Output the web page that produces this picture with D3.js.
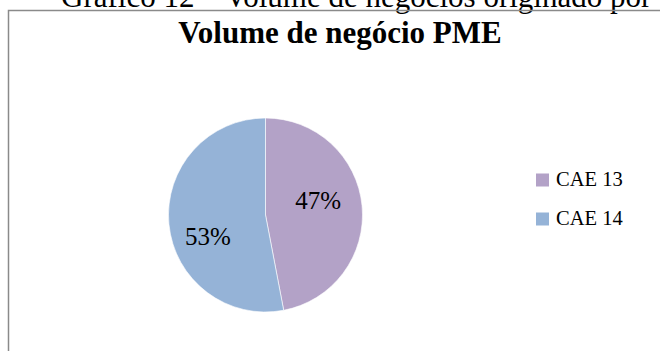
<!DOCTYPE html>
<html>
<head>
<meta charset="utf-8">
<script src="https://cdn.jsdelivr.net/npm/d3@7"></script>
<style>
  html, body { margin: 0; padding: 0; background: #fff; }
  svg { display: block; }
</style>
</head>
<body>
<script>
const captionText = "Gráfico 12 – Volume de negócios originado por";
const chartTitle = "Volume de negócio PME";
const categories = ["CAE 13", "CAE 14"];
const values = [47, 53];
const colors = ["#B3A2C7", "#95B3D7"];

const FONT = "'Liberation Serif', 'Times New Roman', Times, serif";
const W = 660, H = 351;
const svg = d3.select("body").append("svg").attr("width", W).attr("height", H)
  .attr("font-family", FONT);

// caption above chart (cut off at the top, as in the source)
svg.append("text").attr("x", 61).attr("y", 7)
  .attr("font-family", FONT).attr("font-size", 31).attr("fill", "#000")
  .text(captionText);

// chart frame
svg.append("path")
  .attr("d", `M8.5,${H} L8.5,10.5 L${W},10.5`)
  .attr("fill", "none").attr("stroke", "#8a8a8a").attr("stroke-width", 1.5);

// title
svg.append("text").attr("x", 340).attr("y", 43)
  .attr("text-anchor", "middle").attr("font-family", FONT)
  .attr("font-size", 31).attr("font-weight", "bold").attr("fill", "#000")
  .text(chartTitle);

// pie
const cx = 265.5, cy = 215, R = 97;
const data = categories.map((c, i) => ({ cat: c, value: values[i] }));
const pie = d3.pie().sort(null).value(d => d.value).startAngle(0).endAngle(2 * Math.PI);
const arcs = pie(data);
const color = d3.scaleOrdinal().domain(categories).range(colors);
const arc = d3.arc().innerRadius(0).outerRadius(R);

const g = svg.append("g").attr("transform", `translate(${cx},${cy})`);
g.selectAll("path.slice").data(arcs).join("path")
  .attr("class", "slice")
  .attr("d", arc)
  .attr("fill", d => color(d.data.cat))
  .attr("stroke", "#ffffff").attr("stroke-width", 0.6);

const total = d3.sum(values);
const labelR = 58, labelShift = -12.5 * Math.PI / 180, fs = 25;
const ldx = -2.5, ldy = 3.5;
g.selectAll("text.lbl").data(arcs).join("text")
  .attr("class", "lbl")
  .attr("text-anchor", "middle")
  .attr("font-family", FONT)
  .attr("font-size", fs)
  .attr("fill", "#000")
  .attr("x", d => labelR * Math.sin((d.startAngle + d.endAngle) / 2 + labelShift) + ldx)
  .attr("y", d => -labelR * Math.cos((d.startAngle + d.endAngle) / 2 + labelShift) + 0.34 * fs + ldy)
  .text(d => d3.format(".0%")(d.data.value / total));

// legend
const legY = d3.scalePoint().domain(categories).range([186, 225]);
const leg = svg.append("g");
categories.forEach(c => {
  leg.append("rect").attr("x", 536).attr("y", legY(c) - 12.5)
    .attr("width", 13).attr("height", 13).attr("fill", color(c));
  leg.append("text").attr("x", 556).attr("y", legY(c))
    .attr("font-family", FONT).attr("font-size", 20.5).attr("fill", "#000")
    .text(c);
});
</script>
</body>
</html>
